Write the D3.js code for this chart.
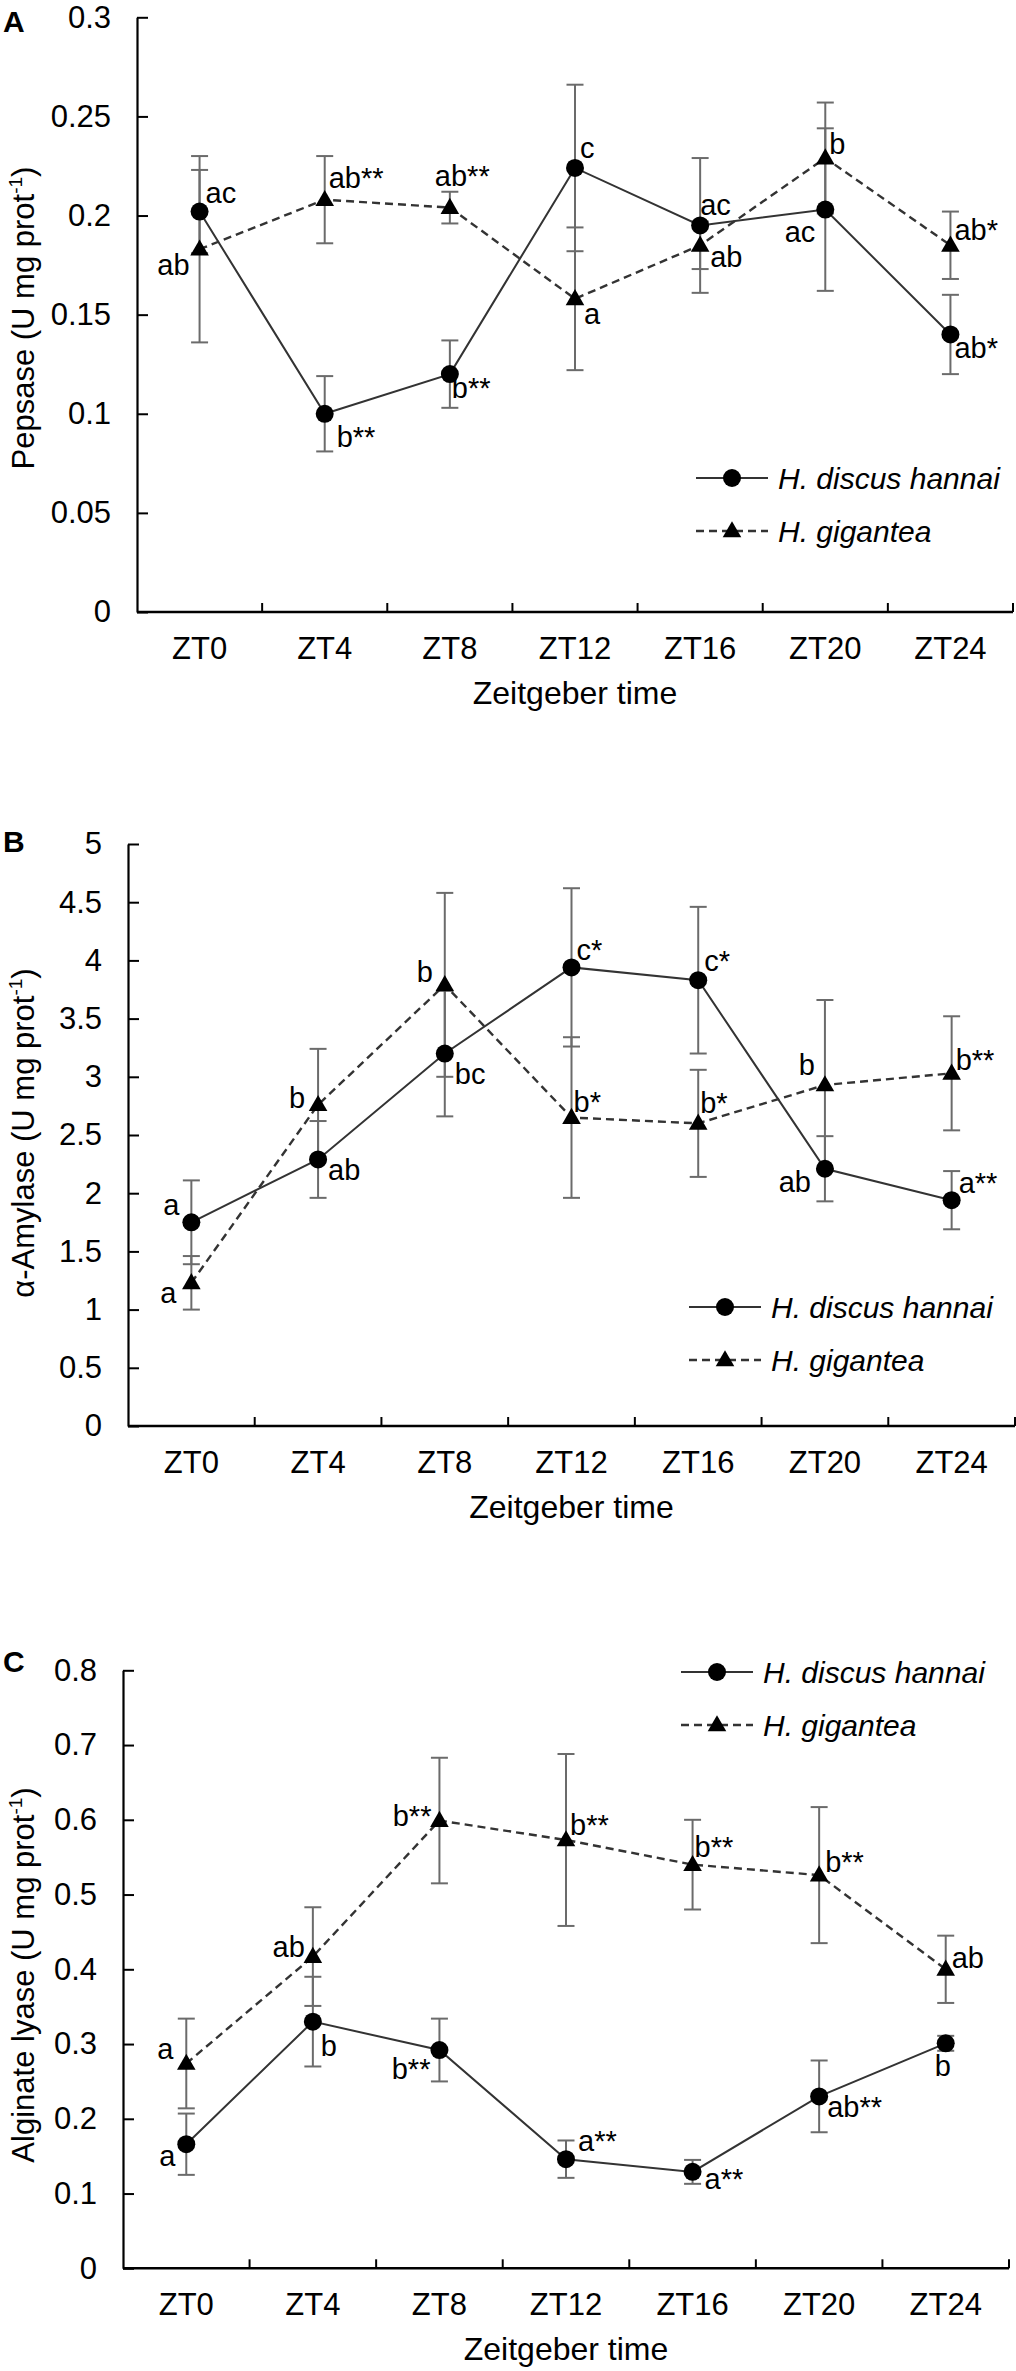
<!DOCTYPE html>
<html><head><meta charset="utf-8">
<script src="https://cdn.jsdelivr.net/npm/d3@7"></script>
<style>
body{margin:0;background:#fff}
svg{display:block}
text{font-family:"Liberation Sans",Arial,Helvetica,sans-serif}
</style>
</head><body>
<svg id="chart" width="1016" height="2371"></svg>
<script>
// ---------- DATA ----------
const categories = ["ZT0","ZT4","ZT8","ZT12","ZT16","ZT20","ZT24"];
const seriesNames = ["H. discus hannai","H. gigantea"];

// Panel A: Pepsase
const pepsaseTicks = [0,0.05,0.1,0.15,0.2,0.25,0.3];
const pepsaseHd    = [0.202,0.100,0.120,0.224,0.195,0.203,0.140];
const pepsaseHdErr = [0.021,0.019,0.017,0.042,0.034,0.041,0.020];
const pepsaseHg    = [0.183,0.208,0.204,0.158,0.185,0.229,0.185];
const pepsaseHgErr = [0.047,0.022,0.008,0.036,0.012,0.028,0.017];
const pepsaseHdLabels = ["ac","b**","b**","c","ac","ac","ab*"];
const pepsaseHgLabels = ["ab","ab**","ab**","a","ab","b","ab*"];

// Panel B: alpha-Amylase
const amylaseTicks = [0,0.5,1,1.5,2,2.5,3,3.5,4,4.5,5];
const amylaseHd    = [1.75,2.29,3.20,3.94,3.83,2.21,1.94];
const amylaseHdErr = [0.36,0.33,0.54,0.68,0.63,0.28,0.25];
const amylaseHg    = [1.23,2.76,3.79,2.65,2.60,2.93,3.03];
const amylaseHgErr = [0.23,0.48,0.79,0.69,0.46,0.73,0.49];
const amylaseHdLabels = ["a","ab","bc","c*","c*","ab","a**"];
const amylaseHgLabels = ["a","b","b","b*","b*","b","b**"];

// Panel C: Alginate lyase
const alginateTicks = [0,0.1,0.2,0.3,0.4,0.5,0.6,0.7,0.8];
const alginateHd    = [0.166,0.330,0.292,0.146,0.129,0.230,0.301];
const alginateHdErr = [0.041,0.060,0.042,0.025,0.016,0.048,0.010];
const alginateHg    = [0.274,0.417,0.599,0.573,0.540,0.526,0.400];
const alginateHgErr = [0.060,0.066,0.084,0.115,0.060,0.091,0.045];
const alginateHdLabels = ["a","b","b**","a**","a**","ab**","b"];
const alginateHgLabels = ["a","ab","b**","b**","b**","b**","ab"];

// ---------- LAYOUT (positions / styles) ----------
const panels = [
  { letter:"A", title:"Pepsase", ticks:pepsaseTicks, max:0.3,
    hd:pepsaseHd, hdErr:pepsaseHdErr, hg:pepsaseHg, hgErr:pepsaseHgErr,
    hdLab:pepsaseHdLabels, hgLab:pepsaseHgLabels,
    left:137, right:1013, top:17.3, bottom:612, legendX:696, legendY:478, titleY:318, letterY:32,
    hdPos:[[6,-9,"start"],[12,33,"start"],[2,24,"start"],[5,-10,"start"],[0,-10,"start"],[-10,32,"end"],[4,24,"start"]],
    hgPos:[[-10,26,"end"],[4,-12,"start"],[-15,-22,"start"],[9,25,"start"],[10,22,"start"],[4,-4,"start"],[4,-5,"start"]] },
  { letter:"B", title:"\u03b1-Amylase", ticks:amylaseTicks, max:5,
    hd:amylaseHd, hdErr:amylaseHdErr, hg:amylaseHg, hgErr:amylaseHgErr,
    hdLab:amylaseHdLabels, hgLab:amylaseHgLabels,
    left:128, right:1015, top:844, bottom:1426, legendX:689, legendY:1307, titleY:1133, letterY:852,
    hdPos:[[-12,-7,"end"],[10,21,"start"],[10,30,"start"],[5,-7,"start"],[6,-9,"start"],[-14,23,"end"],[7,-7,"start"]],
    hgPos:[[-15,20,"end"],[-13,3,"end"],[-12,-3,"end"],[2,-6,"start"],[2,-10,"start"],[-10,-10,"end"],[4,-3,"start"]] },
  { letter:"C", title:"Alginate lyase", ticks:alginateTicks, max:0.8,
    hd:alginateHd, hdErr:alginateHdErr, hg:alginateHg, hgErr:alginateHgErr,
    hdLab:alginateHdLabels, hgLab:alginateHgLabels,
    left:123, right:1009, top:1670.3, bottom:2268.3, legendX:681, legendY:1672, titleY:1975, letterY:1672,
    hdPos:[[-11,22,"end"],[8,34,"start"],[-9,29,"end"],[12,-8,"start"],[12,17,"start"],[8,21,"start"],[-3,33,"middle"]],
    hgPos:[[-13,-4,"end"],[-8,0,"end"],[-8,5,"end"],[4,-5,"start"],[2,-8,"start"],[6,-3,"start"],[6,-1,"start"]] }
];

const LINE_COLOR = "#333";
const ERR_COLOR = "#6b6b6b";
const DASH = "8,5";

const svg = d3.select("#chart");
svg.append("rect").attr("width",1016).attr("height",2371).attr("fill","#fff");

const triPath = d3.symbol().type(d3.symbolTriangle).size(150)();

function drawMarker(g, type, cx, cy) {
  if (type === "circle") {
    g.append("circle").attr("cx",cx).attr("cy",cy).attr("r",9).attr("fill","#000");
  } else {
    g.append("path").attr("d",triPath).attr("transform",`translate(${cx},${cy+1})`).attr("fill","#000");
  }
}

panels.forEach(p => {
  const g = svg.append("g");
  const x = d3.scaleBand().domain(categories).range([p.left, p.right]);
  const bw = x.bandwidth();
  const cx = c => x(c) + bw/2;
  const y = d3.scaleLinear().domain([0, p.max]).range([p.bottom, p.top]);

  // Y axis
  const ya = g.append("g").attr("transform",`translate(${p.left},0)`)
    .call(d3.axisLeft(y).tickValues(p.ticks).tickSize(-11).tickSizeOuter(0).tickPadding(26).tickFormat(d3.format("")));
  ya.select(".domain").attr("stroke","#000").attr("stroke-width",2.2);
  ya.selectAll(".tick line").attr("stroke","#000").attr("stroke-width",2);
  ya.selectAll(".tick text").attr("font-size",31).attr("font-family","Liberation Sans, Arial, sans-serif").attr("fill","#000");

  // X axis labels
  const xa = g.append("g").attr("transform",`translate(0,${p.bottom})`)
    .call(d3.axisBottom(x).tickSize(0).tickPadding(25));
  xa.select(".domain").remove();
  xa.selectAll(".tick text").attr("font-size",31).attr("font-family","Liberation Sans, Arial, sans-serif").attr("fill","#000");
  // X axis line and boundary ticks
  g.append("line").attr("x1",p.left).attr("x2",p.right).attr("y1",p.bottom).attr("y2",p.bottom)
    .attr("stroke","#000").attr("stroke-width",2.6);
  g.selectAll(null).data(categories).enter().append("line")
    .attr("x1",d=>x(d)+bw).attr("x2",d=>x(d)+bw)
    .attr("y1",p.bottom).attr("y2",p.bottom-9)
    .attr("stroke","#000").attr("stroke-width",2);

  // X title
  g.append("text").attr("x",(p.left+p.right)/2).attr("y",p.bottom+92)
    .attr("text-anchor","middle").attr("font-size",32).text("Zeitgeber time");

  // Y title
  const yt = g.append("text").attr("transform",`translate(34,${p.titleY}) rotate(-90)`)
    .attr("text-anchor","middle").attr("font-size",31);
  yt.append("tspan").text(p.title + " (U mg prot");
  yt.append("tspan").attr("font-size",19).attr("dy",-12).text("-1");
  yt.append("tspan").attr("dy",12).text(")");

  // Panel letter
  g.append("text").attr("x",3).attr("y",p.letterY).attr("font-size",30).attr("font-weight","bold").text(p.letter);

  const series = [
    {vals:p.hd, err:p.hdErr, lab:p.hdLab, pos:p.hdPos, marker:"circle", dash:null, width:2},
    {vals:p.hg, err:p.hgErr, lab:p.hgLab, pos:p.hgPos, marker:"tri", dash:DASH, width:2.4}
  ];

  // error bars
  series.forEach(s => {
    categories.forEach((c,i) => {
      const xx = cx(c), y1 = y(s.vals[i]-s.err[i]), y2 = y(s.vals[i]+s.err[i]);
      g.append("line").attr("x1",xx).attr("x2",xx).attr("y1",y1).attr("y2",y2).attr("stroke",ERR_COLOR).attr("stroke-width",2);
      [y1,y2].forEach(yy => g.append("line").attr("x1",xx-8.5).attr("x2",xx+8.5).attr("y1",yy).attr("y2",yy)
        .attr("stroke",ERR_COLOR).attr("stroke-width",2));
    });
  });
  // lines
  series.forEach(s => {
    const line = d3.line().x((d,i)=>cx(categories[i])).y(d=>y(d));
    g.append("path").attr("d",line(s.vals)).attr("fill","none").attr("stroke",LINE_COLOR)
      .attr("stroke-width",s.width).attr("stroke-dasharray",s.dash);
  });
  // markers + labels
  series.forEach(s => {
    categories.forEach((c,i) => {
      drawMarker(g, s.marker, cx(c), y(s.vals[i]));
      const ps = s.pos[i];
      g.append("text").attr("x",cx(c)+ps[0]).attr("y",y(s.vals[i])+ps[1]).attr("text-anchor",ps[2])
        .attr("font-size",29).attr("fill","#000").text(s.lab[i]);
    });
  });

  // legend
  series.forEach((s,k) => {
    const ly = p.legendY + k*53;
    g.append("line").attr("x1",p.legendX).attr("x2",p.legendX+72).attr("y1",ly).attr("y2",ly)
      .attr("stroke",LINE_COLOR).attr("stroke-width",s.width).attr("stroke-dasharray",s.dash);
    drawMarker(g, s.marker, p.legendX+36, ly);
    g.append("text").attr("x",p.legendX+82).attr("y",ly+11).attr("font-size",30).attr("font-style","italic")
      .text(seriesNames[k]);
  });
});
</script>
</body></html>
